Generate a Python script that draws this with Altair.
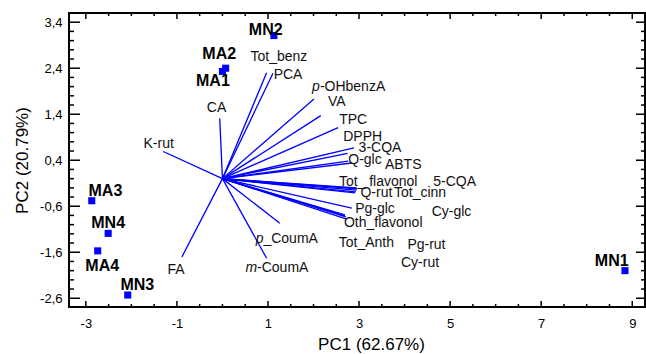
import altair as alt
import pandas as pd

# ---- data ----
variables = ["Tot_benz", "PCA", "CA", "p-OHbenzA", "VA", "TPC", "DPPH", "3-CQA", "Q-glc", "ABTS",
             "Tot_flavonol", "5-CQA", "Q-rut", "Tot_cinn", "Pg-glc", "Cy-glc", "Oth_flavonol",
             "Tot_Anth", "Pg-rut", "Cy-rut", "p_CoumA", "m-CoumA", "FA", "K-rut"]
load_pc1 = [0.97, 1.11, -0.06, 2.01, 2.16, 2.54, 2.89, 2.75, 2.76, 2.84,
            2.95, 2.95, 2.93, 2.95, 2.84, 2.91, 2.73,
            2.71, 2.69, 2.69, 1.26, 0.97, -0.89, -1.30]
load_pc2 = [2.30, 2.29, 1.31, 1.73, 1.37, 1.11, 0.67, 0.55, 0.38, 0.34,
            -0.25, -0.20, -0.29, -0.22, -0.64, -0.31, -0.88,
            -0.83, -0.79, -0.81, -0.97, -1.73, -1.70, 0.59]

# plain variable labels (centre positions)
plain_labels = ["Tot_benz", "PCA", "CA", "VA", "TPC", "DPPH", "3-CQA", "Q-glc", "ABTS",
                "Tot_ flavonol", "5-CQA", "Q-rut", "Tot_cinn", "Pg-glc", "Cy-glc", "Oth_flavonol",
                "Tot_Anth", "Pg-rut", "Cy-rut", "FA", "K-rut"]
plain_x = [1.24, 1.44, -0.13, 2.51, 2.87, 3.08, 3.46, 3.13, 3.97,
           3.42, 5.10, 3.38, 4.34, 3.35, 5.03, 3.53,
           3.16, 4.48, 4.34, -1.02, -1.40]
plain_y = [2.65, 2.25, 1.53, 1.67, 1.28, 0.90, 0.66, 0.41, 0.30,
           -0.07, -0.07, -0.32, -0.32, -0.67, -0.72, -0.97,
           -1.40, -1.44, -1.84, -1.98, 0.75]

# labels with an italic prefix (split point positions)
ital_prefix = ["p", "p", "m"]
ital_rest = ["-OHbenzA", "_CoumA", "-CoumA"]
ital_x = [2.14, 0.90, 0.76]
ital_y = [1.99, -1.31, -1.95]

# samples (scores)
samples = ["MN2", "MA2", "MA1", "MA3", "MN4", "MA4", "MN3", "MN1"]
score_pc1 = [1.13, 0.07, 0.00, -2.87, -2.51, -2.74, -2.08, 8.84]
score_pc2 = [3.11, 2.40, 2.33, -0.48, -1.19, -1.57, -2.53, -2.00]
sample_lx = [0.95, -0.07, -0.21, -2.57, -2.51, -2.64, -1.87, 8.55]
sample_ly = [3.23, 2.71, 2.13, -0.26, -0.97, -1.90, -2.31, -1.78]

# axis ticks
x_major = [-3, -1, 1, 3, 5, 7, 9]
x_minor = [-2.5, -2, -1.5, -0.5, 0, 0.5, 1.5, 2, 2.5, 3.5, 4, 4.5, 5.5, 6, 6.5, 7.5, 8, 8.5]
y_major = [-2.6, -1.6, -0.6, 0.4, 1.4, 2.4, 3.4]
y_minor = [-2.4, -2.2, -2.0, -1.8, -1.4, -1.2, -1.0, -0.8, -0.4, -0.2, 0.0, 0.2,
           0.6, 0.8, 1.0, 1.2, 1.6, 1.8, 2.0, 2.2, 2.6, 2.8, 3.0, 3.2]

X_DOMAIN = [-3.37, 9.28]
Y_DOMAIN = [-2.79, 3.60]
W, H = 576, 294
SANS = "Liberation Sans, Arial"
BLUE = "#0000ff"

xaxis = alt.Axis(values=x_major, tickSize=0, domain=False, grid=False,
                 labelExpr="(datum.value < 0 ? '-' : '') + format(abs(datum.value), 'd')",
                 labelFont=SANS, labelFontSize=13, labelColor="black", labelPadding=10,
                 title="PC1 (62.67%)", titleFont=SANS, titleFontSize=17, titleFontWeight="normal",
                 titleColor="black", titleX=302, titleY=37, titleBaseline="middle", titleAlign="center")
yaxis = alt.Axis(values=y_major, tickSize=0, domain=False, grid=False,
                 labelExpr="(datum.value < 0 ? '-' : '') + replace(format(abs(datum.value), '.1f'), '.', ',')",
                 labelFont=SANS, labelFontSize=13, labelColor="black", labelPadding=7,
                 title="PC2 (20.79%)", titleFont=SANS, titleFontSize=17, titleFontWeight="normal",
                 titleColor="black", titleX=-47, titleY=147, titleBaseline="middle", titleAlign="center",
                 titleAngle=270)
xs = alt.Scale(domain=X_DOMAIN, nice=False, zero=False)
ys = alt.Scale(domain=Y_DOMAIN, nice=False, zero=False)


def X(f):
    return alt.X(f, type="quantitative", scale=xs, axis=xaxis)


def Y(f):
    return alt.Y(f, type="quantitative", scale=ys, axis=yaxis)


vec = pd.DataFrame({"var": variables, "x1": load_pc1, "y1": load_pc2})
vec["x0"] = 0.0
vec["y0"] = 0.0
plain = pd.DataFrame({"label": plain_labels, "x": plain_x, "y": plain_y})
ital = pd.DataFrame({"pre": ital_prefix, "rest": ital_rest, "x": ital_x, "y": ital_y})
pts = pd.DataFrame({"s": samples, "x": score_pc1, "y": score_pc2, "lx": sample_lx, "ly": sample_ly})
xmaj = pd.DataFrame({"v": x_major})
xmin = pd.DataFrame({"v": x_minor})
ymaj = pd.DataFrame({"v": y_major})
ymin = pd.DataFrame({"v": y_minor})

LBL = 14
vectors = alt.Chart(vec).mark_rule(color=BLUE, strokeWidth=1.3).encode(
    x=X("x0"), y=Y("y0"), x2="x1", y2="y1")
plain_txt = alt.Chart(plain).mark_text(font=SANS, fontSize=LBL, color="#111", align="center",
                                       baseline="middle").encode(x=X("x"), y=Y("y"), text="label")
pre_txt = alt.Chart(ital).mark_text(font=SANS, fontSize=LBL, color="#111", align="right",
                                    baseline="middle", fontStyle="italic").encode(x=X("x"), y=Y("y"), text="pre")
rest_txt = alt.Chart(ital).mark_text(font=SANS, fontSize=LBL, color="#111", align="left",
                                     baseline="middle").encode(x=X("x"), y=Y("y"), text="rest")
squares = alt.Chart(pts).mark_square(color=BLUE, size=50, opacity=1).encode(x=X("x"), y=Y("y"))
sample_txt = alt.Chart(pts).mark_text(font=SANS, fontSize=16, fontWeight="bold", color="black",
                                      align="center", baseline="middle").encode(x=X("lx"), y=Y("ly"), text="s")

tick_layers = [
    alt.Chart(xmaj).mark_rule(color="black", strokeWidth=1.5).encode(x=X("v"), y=alt.value(H), y2=alt.value(H - 6)),
    alt.Chart(xmin).mark_rule(color="black", strokeWidth=1.5).encode(x=X("v"), y=alt.value(H), y2=alt.value(H - 3)),
    alt.Chart(xmaj).mark_rule(color="black", strokeWidth=1.5).encode(x=X("v"), y=alt.value(0), y2=alt.value(6)),
    alt.Chart(xmin).mark_rule(color="black", strokeWidth=1.5).encode(x=X("v"), y=alt.value(0), y2=alt.value(3)),
    alt.Chart(ymaj).mark_rule(color="black", strokeWidth=1.5).encode(y=Y("v"), x=alt.value(0), x2=alt.value(11)),
    alt.Chart(ymin).mark_rule(color="black", strokeWidth=1.5).encode(y=Y("v"), x=alt.value(0), x2=alt.value(5)),
    alt.Chart(ymaj).mark_rule(color="black", strokeWidth=1.5).encode(y=Y("v"), x=alt.value(W), x2=alt.value(W - 9)),
    alt.Chart(ymin).mark_rule(color="black", strokeWidth=1.5).encode(y=Y("v"), x=alt.value(W), x2=alt.value(W - 4)),
]

chart = alt.layer(vectors, *tick_layers, plain_txt, pre_txt, rest_txt, squares, sample_txt).properties(
    width=W, height=H,
    autosize=alt.AutoSizeParams(type="none"),
    padding={"left": 69, "top": 13, "right": 1, "bottom": 47},
    background="white",
).configure_view(stroke="black", strokeWidth=2)

chart.save("out.html", embed_options={"renderer": "svg", "actions": False})
